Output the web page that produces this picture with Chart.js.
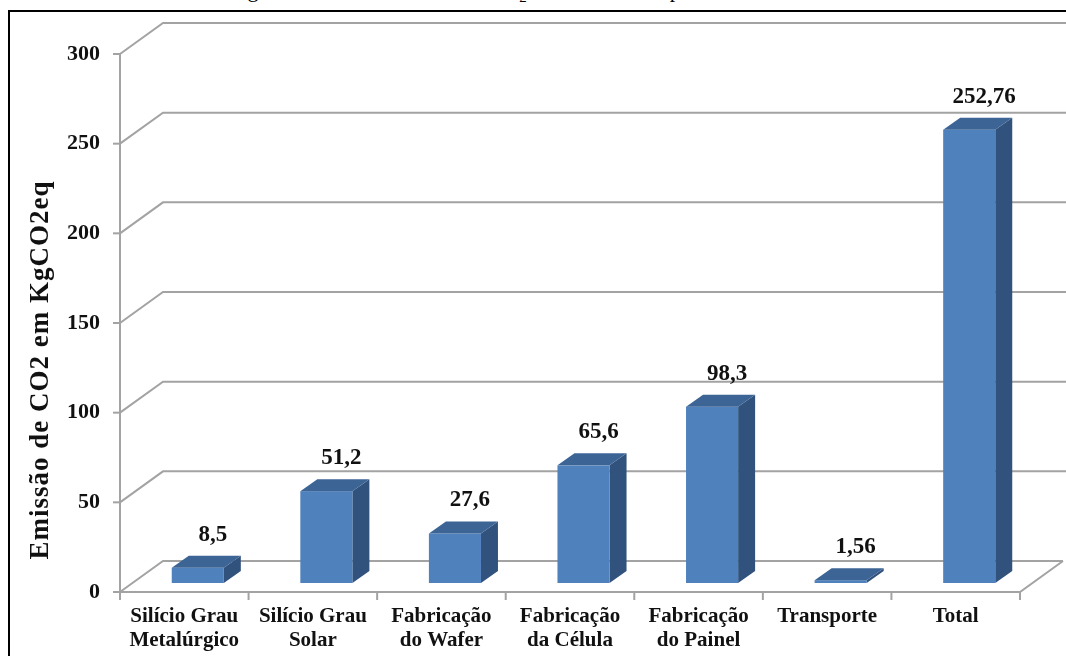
<!DOCTYPE html>
<html>
<head>
<meta charset="utf-8">
<script src="https://cdn.jsdelivr.net/npm/chart.js@4.4.1/dist/chart.umd.min.js"></script>
<style>
  html, body { margin: 0; padding: 0; background: #fff; }
  #wrap { position: relative; width: 1066px; height: 656px; overflow: hidden; }
  #frame { position: absolute; left: 8px; top: 10px; width: 1100px; height: 700px; border: 2px solid #000; box-sizing: border-box; }
  #fig { position: absolute; left: 0; width: 1100px; top: -21px; text-align: left; padding-left: 224px; box-sizing: border-box;
         font: 22px 'Liberation Serif', 'Times New Roman', serif; line-height: 22px; letter-spacing: 2.6px; color: #000; white-space: nowrap; }
  canvas { position: absolute; left: 0; top: 0; }
</style>
</head>
<body>
<div id="wrap">
  <div id="fig">Figura 8 – Emissão de CO<sub style="font-size:15px;line-height:0">2</sub> em cada etapa do sistema FV</div>
  <div id="frame"></div>
  <canvas id="c" width="1066" height="656"></canvas>
</div>
<script>
// ---- data ----
const categories = [
  ["Silício Grau", "Metalúrgico"],
  ["Silício Grau", "Solar"],
  ["Fabricação", "do Wafer"],
  ["Fabricação", "da Célula"],
  ["Fabricação", "do Painel"],
  ["Transporte"],
  ["Total"]
];
const emissions = [8.5, 51.2, 27.6, 65.6, 98.3, 1.56, 252.76];
const yMin = 0, yMax = 300, yStep = 50;
const yTitle = "Emissão de CO2 em KgCO2eq";

// ---- styling ----
const FONT = "'Liberation Serif', 'Times New Roman', serif";
const DX = 43, DY = 31;      // wall depth
const BX = 13.5, BY = 9;     // bar front plane offset
const SX = 17, SY = 12;      // bar depth
const FRONT = '#4F81BD', TOP = '#3C6596', SIDE = '#30527C';
const GRID = '#a3a3a3';

function poly(ctx, pts, color) {
  ctx.beginPath();
  ctx.moveTo(pts[0][0], pts[0][1]);
  for (let i = 1; i < pts.length; i++) ctx.lineTo(pts[i][0], pts[i][1]);
  ctx.closePath();
  ctx.fillStyle = color;
  ctx.fill();
}

const threeD = {
  id: 'threeD',
  beforeDatasetsDraw(chart) {
    const { ctx, chartArea: { left: L, right: R, bottom: B }, scales: { x, y } } = chart;
    ctx.save();
    ctx.strokeStyle = GRID;
    ctx.lineWidth = 2;
    y.ticks.forEach(t => {
      const py = y.getPixelForValue(t.value);
      ctx.beginPath();
      ctx.moveTo(L, py);
      ctx.lineTo(L + DX, py - DY);
      ctx.lineTo(t.value === yMin ? R + DX : chart.width, py - DY);
      ctx.stroke();
      ctx.beginPath();
      ctx.moveTo(L - 7, py);
      ctx.lineTo(L, py);
      ctx.stroke();
    });
    ctx.beginPath();
    ctx.moveTo(L, B); ctx.lineTo(R, B); ctx.lineTo(R + DX, B - DY);
    ctx.stroke();
    ctx.beginPath();
    ctx.moveTo(L, y.getPixelForValue(yMax)); ctx.lineTo(L, B);
    ctx.stroke();
    const n = categories.length;
    const cw = (R - L) / n;
    for (let i = 0; i <= n; i++) {
      const px = x.getPixelForValue(0) - cw / 2 + i * cw;
      ctx.beginPath();
      ctx.moveTo(px, B); ctx.lineTo(px, B + 8);
      ctx.stroke();
    }
    ctx.restore();
  },
  afterDatasetsDraw(chart) {
    const { ctx } = chart;
    const meta = chart.getDatasetMeta(0);
    ctx.save();
    meta.data.forEach((el, i) => {
      const p = el.getProps(['x', 'y', 'base', 'width'], true);
      const l = p.x - p.width / 2 + BX, r = p.x + p.width / 2 + BX;
      const t = p.y - BY, b = p.base - BY;
      poly(ctx, [[r, t], [r + SX, t - SY], [r + SX, b - SY], [r, b]], SIDE);
      ctx.fillStyle = FRONT;
      ctx.fillRect(l, t, r - l, b - t);
      poly(ctx, [[l, t], [r, t], [r + SX, t - SY], [l + SX, t - SY]], TOP);
      ctx.fillStyle = '#111';
      ctx.font = "bold 23px " + FONT;
      ctx.textAlign = 'center';
      ctx.textBaseline = 'middle';
      ctx.fillText(String(emissions[i]).replace('.', ','), p.x + BX + 15, t - 33);
    });
    ctx.restore();
  },
  afterDraw(chart) {
    const { ctx } = chart;
    ctx.save();
    ctx.translate(41, 370);
    ctx.rotate(-Math.PI / 2);
    ctx.font = "bold 27px " + FONT;
    if ('letterSpacing' in ctx) ctx.letterSpacing = '1px';
    ctx.fillStyle = '#111';
    ctx.textAlign = 'center';
    ctx.textBaseline = 'middle';
    ctx.fillText(yTitle, 0, 0);
    ctx.restore();
  }
};

new Chart(document.getElementById('c'), {
  type: 'bar',
  data: {
    labels: categories,
    datasets: [{
      data: emissions,
      backgroundColor: 'rgba(0,0,0,0)',
      borderWidth: 0,
      categoryPercentage: 1,
      barPercentage: 0.405
    }]
  },
  options: {
    responsive: false,
    animation: false,
    devicePixelRatio: 1,
    layout: { padding: { left: 10, right: 46, top: 54, bottom: 0 } },
    plugins: { legend: { display: false }, tooltip: { enabled: false } },
    scales: {
      x: {
        grid: { display: false, drawTicks: false },
        border: { display: false },
        ticks: {
          color: '#111',
          font: { family: FONT, size: 21, weight: 'bold', lineHeight: 1.14 },
          padding: 13,
          maxRotation: 0,
          autoSkip: false
        },
        afterFit(s) { s.height = 64; }
      },
      y: {
        min: yMin, max: yMax,
        grid: { display: false, drawTicks: false },
        border: { display: false },
        ticks: {
          stepSize: yStep,
          color: '#111',
          font: { family: FONT, size: 22, weight: 'bold' },
          padding: 20
        },
        afterFit(s) { s.width = 110; }
      }
    }
  },
  plugins: [threeD]
});
</script>
</body>
</html>
